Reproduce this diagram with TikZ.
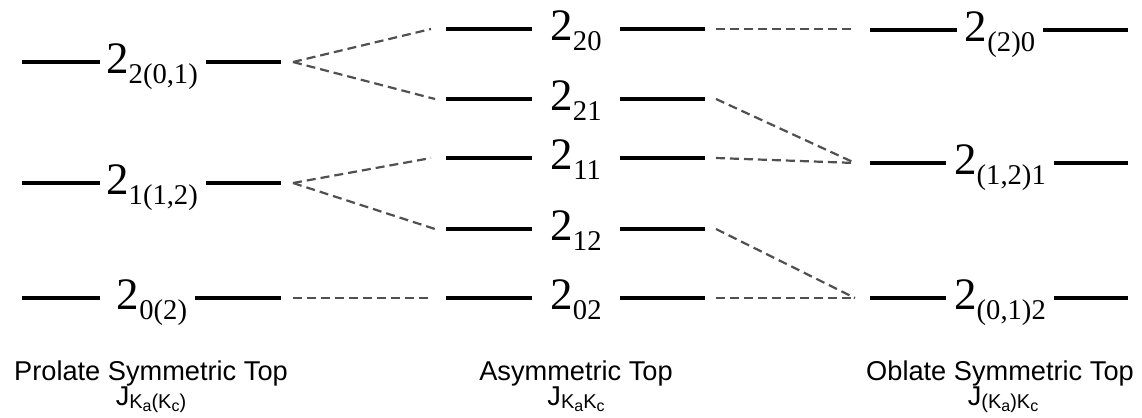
\documentclass[tikz,border=0pt]{standalone}
\usepackage{fontspec}
\setmainfont{Liberation Serif}
\newfontfamily\capfont{Liberation Sans}
\usetikzlibrary{calc}
\newcommand\lvlabel[1]{{\fontsize{22.5}{24}\selectfont 2}\raisebox{-5pt}{\fontsize{14.3}{16}\selectfont #1}}
\newcommand\subA[1]{\raisebox{-1.6pt}{\fontsize{10}{11}\selectfont #1}}
\newcommand\subB[1]{\raisebox{-1.4pt}{\fontsize{8}{9}\selectfont #1}}
\tikzset{
  levline/.style={line width=2pt, black},
  conn/.style={line width=1.1pt, draw={rgb,255:red,80;green,80;blue,80}, dash pattern=on 4.5pt off 2.5pt},
  lvl/.style={inner sep=0pt, anchor=base},
  capt/.style={inner sep=0pt, anchor=base, font=\capfont\fontsize{13.6}{15}\selectfont},
}
\begin{document}
\begin{tikzpicture}[x=0.5pt,y=-0.5pt]
\useasboundingbox (0,0) rectangle (1142,418);
% ---------- left column (prolate) ----------
\foreach \n/\y/\t in {p2/62/{2(0,1)}, p1/183/{1(1,2)}, p0/298/{0(2)}}{
  \coordinate (\n L) at (22,\y);
  \coordinate (\n R) at (281,\y);
  \node[lvl] (\n) at (152,\y+11) {\lvlabel{\t}};
  \draw[levline] (\n L) -- (100,\y);
  \draw[levline] ($(\n.east |- \n L)+(8,0)$) -- (\n R);
  \coordinate (\n o) at ($(\n R)+(12,0)$);
}
% ---------- middle column (asymmetric) ----------
\foreach \n/\y/\t in {a20/29/20, a21/99/21, a11/158/11, a12/229/12, a02/298/02}{
  \coordinate (\n L) at (446,\y);
  \coordinate (\n R) at (705,\y);
  \node[lvl] (\n) at (576,\y+11) {\lvlabel{\t}};
  \draw[levline] (\n L) -- (532,\y);
  \draw[levline] (620,\y) -- (\n R);
  \coordinate (\n i) at ($(\n L)+(-15,0)$);
  \coordinate (\n o) at ($(\n R)+(11,0)$);
}
% ---------- right column (oblate) ----------
\foreach \n/\y/\t in {o0/30/{(2)0}, o1/163/{(1,2)1}, o2/298/{(0,1)2}}{
  \coordinate (\n L) at (870,\y);
  \coordinate (\n R) at (1128,\y);
  \node[lvl] (\n) at (1000,\y+11) {\lvlabel{\t}};
  \draw[levline] (\n L) -- ($(\n.west |- \n L)+(-8,0)$);
  \draw[levline] ($(\n.east |- \n L)+(8,0)$) -- (\n R);
  \coordinate (\n i) at ($(\n L)+(-15,0)$);
}
% ---------- correlation lines ----------
\draw[conn] (p2o) -- (a20i);
\draw[conn] (p2o) -- ($(a21i)+(4,0)$);
\draw[conn] (p1o) -- (a11i);
\draw[conn] (p1o) -- ($(a12i)+(4,0)$);
\draw[conn] (p0o) -- (a02i);
\draw[conn] (a20o) -- (a20o -| o0i);
\draw[conn] (a21o) -- (o1i);
\draw[conn] (a11o) -- (o1i);
\draw[conn] (a12o) -- (o2i);
\draw[conn] (a02o) -- (o2i);
% ---------- captions ----------
\node[capt] (c1) at (151,380) {Prolate Symmetric Top};
\node[capt] (c2) at (576,380) {Asymmetric Top};
\node[capt] (c3) at (1000,380) {Oblate Symmetric Top};
\node[capt] (j1) at (151,405) {J\subA{K\subB{a}(K\subB{c})}};
\node[capt] (j2) at (576,405) {J\subA{K\subB{a}K\subB{c}}};
\node[capt] (j3) at (1003,405) {J\subA{(K\subB{a})K\subB{c}}};
\end{tikzpicture}
\end{document}
